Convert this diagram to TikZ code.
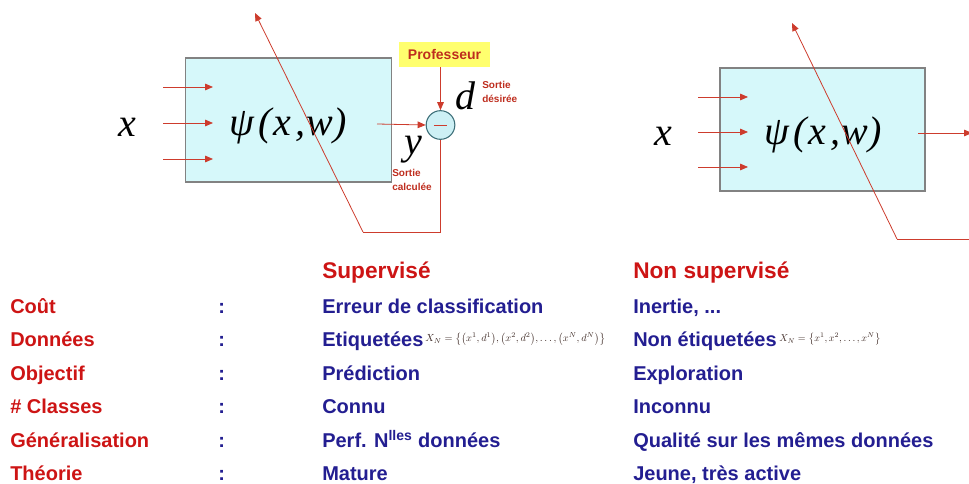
\documentclass[tikz,border=0pt]{standalone}
\usepackage{fontspec}
\usepackage{graphicx}
\setmainfont{Liberation Sans}
\newfontfamily\tms{Liberation Serif}
\usetikzlibrary{arrows.meta}
\definecolor{arrcol}{RGB}{205,60,45}
\definecolor{boxfill}{RGB}{214,248,250}
\definecolor{boxline}{RGB}{130,130,130}
\definecolor{sumfill}{RGB}{205,240,245}
\definecolor{sumline}{RGB}{60,110,120}
\definecolor{yel}{RGB}{255,255,110}
\definecolor{labred}{RGB}{190,45,30}
\definecolor{tabred}{RGB}{205,20,20}
\definecolor{tabblue}{RGB}{35,30,145}
\definecolor{formcol}{RGB}{60,40,35}
\tikzset{
  psibox/.style={draw=boxline, line width=0.9pt, fill=boxfill, inner sep=0pt, minimum width=155pt, minimum height=93pt},
  conn/.style={draw=arrcol, line width=0.6pt},
  arrw/.style={conn, -{Triangle[length=6pt,width=5pt]}},
  bigmath/.style={font=\tms\itshape\fontsize{30}{32}\selectfont, inner sep=0pt},
  smallred/.style={font=\bfseries\fontsize{7.5}{10.5}\selectfont, text=labred, align=left, inner sep=0pt},
  lab/.style={anchor=base west, inner sep=0pt, font=\bfseries\fontsize{15}{18}\selectfont, text=tabred},
  val/.style={anchor=base west, inner sep=0pt, font=\bfseries\fontsize{15}{18}\selectfont, text=tabblue},
  head/.style={anchor=base west, inner sep=0pt, font=\bfseries\fontsize{17}{20}\selectfont, text=tabred},
  form/.style={anchor=west, inner sep=0pt, text=formcol},
}
\begin{document}
\begin{tikzpicture}[x=0.75pt,y=-0.75pt]
\useasboundingbox (0,0) rectangle (969,484);
% ---------- left diagram ----------
\node[psibox] (box1) at (288.5,120) {};
\node[bigmath] (psi1) at (288,126) {ψ\kern3pt(\kern1.5pt x\kern3pt,\kern1pt w)};
\node[bigmath] (xl1) at (127,127) {x};
\coordinate (i1a) at (163,87);  \coordinate (i1b) at (213,87);
\coordinate (i2a) at (163,123); \coordinate (i2b) at (213,123);
\coordinate (i3a) at (163,159); \coordinate (i3b) at (213,159);
\draw[arrw] (i1a) -- (i1b);
\draw[arrw] (i2a) -- (i2b);
\draw[arrw] (i3a) -- (i3b);
\node[circle, draw=sumline, line width=0.8pt, fill=sumfill, minimum size=21.5pt, inner sep=0pt] (sum) at (440.5,125) {};
\draw[conn] ([xshift=-5pt]sum.center) -- ([xshift=5pt]sum.center);
\node[fill=yel, minimum width=68pt, minimum height=19pt, inner sep=0pt, font=\bfseries\fontsize{10.5}{12}\selectfont, text=labred] (prof) at (444.5,54.5) {Professeur};
\draw[arrw] (sum.north |- prof.south) -- (sum.north);
\coordinate (o1) at (377,124);
\draw[arrw] (o1) -- (sum.west);
\node[bigmath] (dl) at (465,96) {d};
\node[bigmath] (yl) at (413,150) {y};
\node[smallred, anchor=west] (sd) at (482,92) {Sortie\\désirée};
\node[smallred, anchor=west] (sc) at (392,180) {Sortie\\calculée};
\coordinate (fb1) at (440.5,232);
\coordinate (fb2) at (363,232);
\coordinate (tip1) at (255,13);
\draw[conn] (sum.south) -- (fb1) -- (fb2);
\draw[arrw] (fb2) -- (tip1);
% ---------- right diagram ----------
\node[psibox, minimum width=153.75pt, minimum height=92.25pt] (box2) at (822.5,129.5) {};
\node[bigmath] (psi2) at (823,135) {ψ\kern3pt(\kern1.5pt x\kern3pt,\kern1pt w)};
\node[bigmath] (xl2) at (663,136) {x};
\coordinate (j1a) at (698,97);  \coordinate (j1b) at (748,97);
\coordinate (j2a) at (698,132); \coordinate (j2b) at (748,132);
\coordinate (j3a) at (698,167); \coordinate (j3b) at (748,167);
\draw[arrw] (j1a) -- (j1b);
\draw[arrw] (j2a) -- (j2b);
\draw[arrw] (j3a) -- (j3b);
\coordinate (o2a) at (918,133);
\coordinate (o2b) at (972,133);
\draw[arrw] (o2a) -- (o2b);
\coordinate (gb1) at (975,239);
\coordinate (gb2) at (897,239);
\coordinate (tip2) at (792,23);
\draw[conn] (gb1) -- (gb2);
\draw[arrw] (gb2) -- (tip2);
% ---------- table ----------
\node[head] (hs) at (322,278) {Supervisé};
\node[head] (hn) at (633,278) {Non supervisé};
\node[lab] (l1) at (10,313) {Coût};
\node[lab] (l2) at (10,346) {Données};
\node[lab] (l3) at (10,380) {Objectif};
\node[lab] (l4) at (10,413) {\# Classes};
\node[lab] (l5) at (10,447) {Généralisation};
\node[lab] (l6) at (10,480) {Théorie};
\foreach \yy/\nm in {313/c1,346/c2,380/c3,413/c4,447/c5,480/c6}
  \node[val] (\nm) at (218,\yy) {:};
\node[val] (s1) at (322,313) {Erreur de classification};
\node[val] (s2) at (322,346) {Etiquetées};
\node[form] (f1) at (425,339) {\resizebox{135pt}{!}{$X_N=\bigl\{\bigl(x^1,d^1\bigr),\bigl(x^2,d^2\bigr),\dots,\bigl(x^N,d^N\bigr)\bigr\}$}};
\node[val] (s3) at (322,380) {Prédiction};
\node[val] (s4) at (322,413) {Connu};
\node[val] (s5) at (322,447) {Perf. N\textsuperscript{lles} données};
\node[val] (s6) at (322,480) {Mature};
\node[val] (n1) at (633,313) {Inertie, ...};
\node[val] (n2) at (633,346) {Non étiquetées};
\node[form] (f2) at (779,339) {\resizebox{76pt}{!}{$X_N=\bigl\{x^1,x^2,\dots,x^N\bigr\}$}};
\node[val] (n3) at (633,380) {Exploration};
\node[val] (n4) at (633,413) {Inconnu};
\node[val] (n5) at (633,447) {Qualité sur les mêmes données};
\node[val] (n6) at (633,480) {Jeune, très active};
\end{tikzpicture}
\end{document}
